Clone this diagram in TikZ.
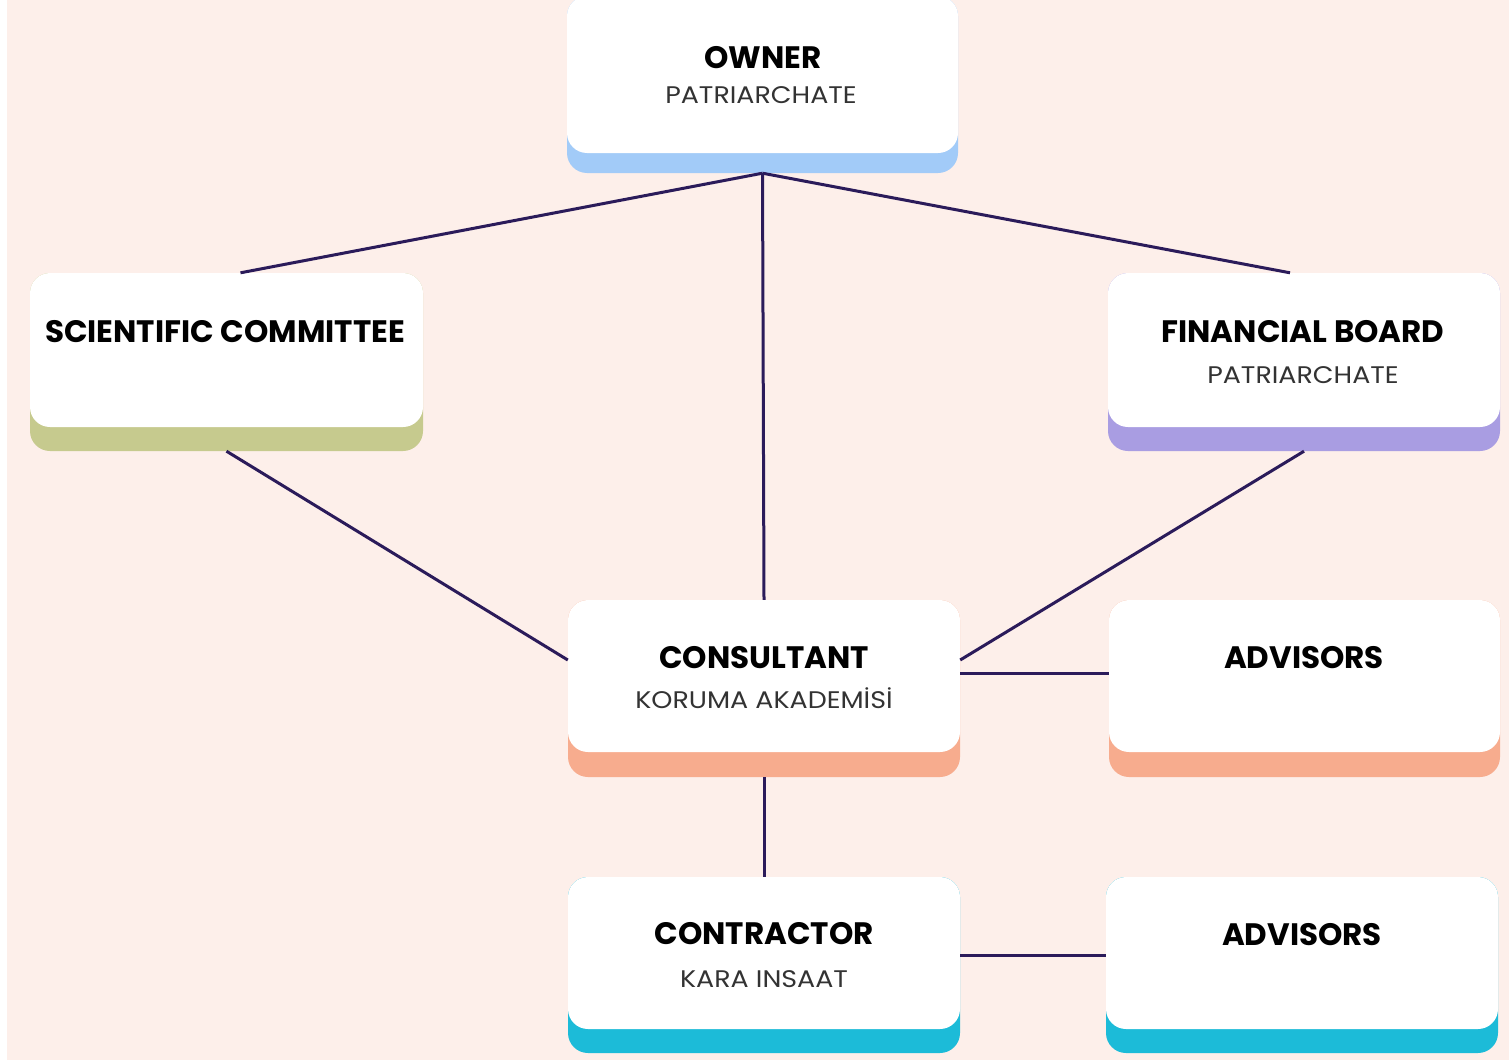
\documentclass[tikz,border=0pt]{standalone}
\usepackage{fontspec}
\setmainfont{Poppins}
\newfontfamily\titlefont{Poppins}
\newfontfamily\subfont[FakeStretch=1.12]{Poppins}
\definecolor{bgpeach}{HTML}{FDEFEA}
\definecolor{linecol}{HTML}{2B1B5A}
\definecolor{bandblue}{HTML}{A2CBF8}
\definecolor{bandolive}{HTML}{C6CA8E}
\definecolor{bandlav}{HTML}{A99DE2}
\definecolor{bandsalmon}{HTML}{F7AC8E}
\definecolor{bandcyan}{HTML}{1CBBD8}
\definecolor{subgray}{HTML}{333333}
\tikzset{
  band/.style={fill=#1, draw=none, rounded corners=20pt, inner sep=0pt},
  card/.style={fill=white, draw=none, rounded corners=20pt, inner sep=0pt},
  ttl/.style={font=\titlefont\bfseries\fontsize{31}{33}\selectfont, text=black, inner sep=0pt, anchor=base},
  sub/.style={font=\subfont\fontsize{24}{26}\selectfont, text=subgray, inner sep=0pt, anchor=base},
  conn/.style={draw=linecol, line width=3pt}
}
% #1 name, #2 x1, #3 x2, #4 y top, #5 y white bottom, #6 y band bottom, #7 colour
\newcommand{\orgcard}[7]{%
  \pgfmathsetmacro{\ocx}{(#2+#3)/2}%
  \pgfmathsetmacro{\ocw}{#3-#2}%
  \pgfmathsetmacro{\ocyb}{(#4+#6)/2}%
  \pgfmathsetmacro{\ochb}{#6-#4}%
  \pgfmathsetmacro{\ocyw}{(#4+#5)/2}%
  \pgfmathsetmacro{\ochw}{#5-#4}%
  \node[band=#7, minimum width=\ocw pt, minimum height=\ochb pt] (#1b) at (\ocx,\ocyb) {};
  \node[card, minimum width=\ocw pt, minimum height=\ochw pt] (#1) at (\ocx,\ocyw) {};
}
\begin{document}
\begin{tikzpicture}[x=1pt,y=-1pt]
\fill[white] (0,0) rectangle (1509,1060);
\fill[bgpeach] (7,0) rectangle (1509,1060);
\useasboundingbox (0,0) rectangle (1509,1060);

\orgcard{owner}{567}{958}{-4}{153}{173}{bandblue}
\orgcard{sci}{30}{423}{273}{427}{451}{bandolive}
\orgcard{fin}{1108}{1500}{273}{427}{451}{bandlav}
\orgcard{cons}{568}{960}{600}{752}{777}{bandsalmon}
\orgcard{adv}{1109}{1500}{600}{752}{777}{bandsalmon}
\orgcard{contr}{568}{960}{877}{1029}{1053}{bandcyan}
\orgcard{advb}{1106}{1498}{877}{1029}{1053}{bandcyan}

\node[ttl] (ownert) at (763,68) {OWNER};
\node[sub] (owners) at (761,103) {PATRIARCHATE};
\node[ttl] (scit) at (225,342) {SCIENTIFIC COMMITTEE};
\node[ttl] (fint) at (1303,342) {FINANCIAL BOARD};
\node[sub] (fins) at (1303,383) {PATRIARCHATE};
\node[ttl] (const) at (764,668) {CONSULTANT};
\node[sub] (conss) at (764,708) {KORUMA AKADEMİSİ};
\node[ttl] (advt) at (1304,668) {ADVISORS};
\node[ttl] (contrt) at (764,944) {CONTRACTOR};
\node[sub] (contrs) at (764,987) {KARA INSAAT};
\node[ttl] (advbt) at (1302,945) {ADVISORS};

\coordinate (ownerbot) at (ownerb.south);
\coordinate (scitop) at ([xshift=14pt]sci.north);
\coordinate (fintop) at ([xshift=-14pt]fin.north);
\coordinate (consleftA) at ([yshift=16pt]cons.west);
\coordinate (consrightA) at ([yshift=16pt]cons.east);
\coordinate (consrightB) at ([yshift=3pt]cons.east);
\coordinate (advleft) at (adv.west |- consrightB);
\coordinate (contrright) at ([yshift=-2pt]contr.east);
\coordinate (advbleft) at (advb.west |- contrright);

\draw[conn] (ownerbot) -- (scitop);
\draw[conn] (ownerbot) -- (fintop);
\draw[conn] (ownerbot) -- (cons.north);
\draw[conn] (scib.south) -- (consleftA);
\draw[conn] (finb.south) -- (consrightA);
\draw[conn] (consrightB) -- (advleft);
\draw[conn] (consb.south) -- (contr.north);
\draw[conn] (contrright) -- (advbleft);
\end{tikzpicture}
\end{document}
